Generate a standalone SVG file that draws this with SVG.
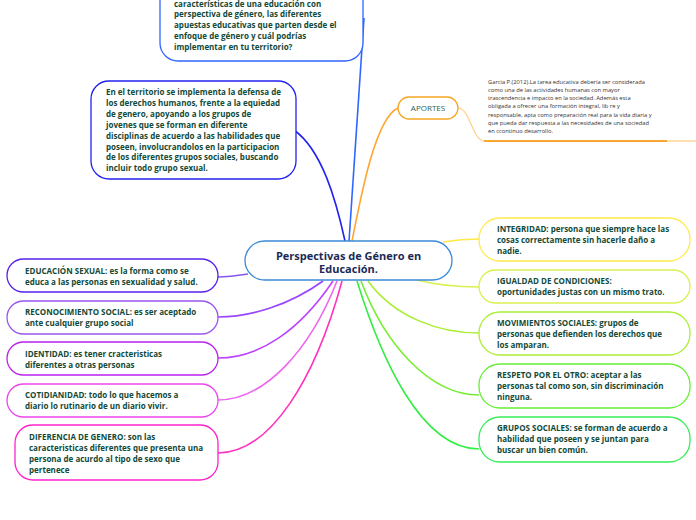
<svg xmlns="http://www.w3.org/2000/svg" width="696" height="520" viewBox="0 0 696 520">
<style>
.t{font-family:"Open Sans","Noto Sans",sans-serif;font-weight:bold;font-size:8px;fill:#124a38}
.c{font-family:"Open Sans","Noto Sans",sans-serif;font-weight:bold;font-size:11px;fill:#1a2a55;text-anchor:middle}
.n{font-family:"Open Sans","Noto Sans",sans-serif;font-size:5.75px;fill:#333}
.box{fill:#fff;stroke-width:1.3}
.ln{fill:none;stroke-width:1.6}
</style>
<rect width="696" height="520" fill="#fff"/>
<g id="connectors">
<path class="ln" d="M349 241 L364 18" stroke="#2f66ff"/>
<path class="ln" d="M345 241 C336 200 322 150 294 130" stroke="#2222ee"/>
<path class="ln" d="M352 241 C362 190 376 118 398 108" stroke="#ffa630"/>
<path d="M458 108 C470 108 472 140 484 141" fill="none" stroke="#ffd08a" stroke-width="1.2"/>
<path d="M484 141 L667 141" stroke="#f8a832" stroke-width="2"/>
<path d="M667 141 L696 141" stroke="#ffe0b0" stroke-width="2"/>
<path class="ln" d="M443 242 C455 240 465 239 479 239" stroke="#ffe94a"/>
<path class="ln" d="M417 280 C440 286 460 287 479 287" stroke="#daf050"/>
<path class="ln" d="M368 281 C395 318 440 333 479 333" stroke="#aaee33"/>
<path class="ln" d="M361 281 C385 345 430 395 479 395" stroke="#77ee33"/>
<path class="ln" d="M357 281 C380 355 420 449 479 449" stroke="#33ee44"/>
<path class="ln" d="M248 274 C235 276 228 277 218 277" stroke="#8855ee"/>
<path class="ln" d="M323 281 C290 305 250 317 218 317" stroke="#9944ff"/>
<path class="ln" d="M333 281 C300 330 260 358 218 358" stroke="#bb44ff"/>
<path class="ln" d="M337 281 C310 350 265 400 218 400" stroke="#ee66ee"/>
<path class="ln" d="M342 281 C315 380 270 453 218 453" stroke="#ff33bb"/>
</g>
<g id="top-node">
<rect class="box" x="160" y="-40" width="203" height="101" rx="18" stroke="#2f66ff"/>
<text class="t"><tspan x="174" y="6.5">características de una educación con</tspan><tspan x="174" y="17.4">perspectiva de género, las diferentes</tspan><tspan x="174" y="28.3">apuestas educativas que parten desde el</tspan><tspan x="174" y="39.2">enfoque de género y cuál podrías</tspan><tspan x="174" y="50.1">implementar en tu territorio?</tspan></text>
</g>
<g id="territorio">
<rect class="box" x="91" y="81" width="205" height="98" rx="18" stroke="#2222ee"/>
<text class="t"><tspan x="106" y="95">En el territorio se implementa la defensa de</tspan><tspan x="106" y="105.9">los derechos humanos, frente a la equiedad</tspan><tspan x="106" y="116.8">de genero, apoyando a los grupos de</tspan><tspan x="106" y="127.7">jovenes que se forman en diferente</tspan><tspan x="106" y="138.6">disciplinas de acuerdo a las habilidades que</tspan><tspan x="106" y="149.5">poseen, involucrandolos en la participacion</tspan><tspan x="106" y="160.4">de los diferentes grupos sociales, buscando</tspan><tspan x="106" y="171.3">incluir todo grupo sexual.</tspan></text>
</g>
<g id="aportes">
<rect class="box" x="398" y="97" width="60" height="22" rx="11" stroke="#f5a623"/>
<text x="428" y="111" text-anchor="middle" style="font-family:'Open Sans','Noto Sans',sans-serif;font-size:8px;fill:#2e5e4e">APORTES</text>
</g>
<g id="nota">
<text class="n"><tspan x="488" y="83.5">Garcia P.(2012).La tarea educativa debería ser considerada</tspan><tspan x="488" y="91.8">como una de las actividades humanas con mayor</tspan><tspan x="488" y="100.1">trascendencia e impacto en la sociedad. Además esta</tspan><tspan x="488" y="108.4">obligada a ofrecer una formación integral, lib re y</tspan><tspan x="488" y="116.7">responsable, apta como preparación real para la vida diaria y</tspan><tspan x="488" y="125">que pueda dar respuesta a las necesidades de una sociedad</tspan><tspan x="488" y="133.3">en ccontinuo desarrollo.</tspan></text>
</g>
<g id="central">
<rect class="box" x="245" y="241" width="207" height="39" rx="19.5" stroke="#3a8ad6"/>
<text class="c"><tspan x="348.5" y="259.5">Perspectivas de Género en</tspan><tspan x="348.5" y="273">Educación.</tspan></text>
</g>
<g id="integridad">
<rect class="box" x="479" y="218" width="211" height="43" rx="21" stroke="#ffe94a"/>
<text class="t"><tspan x="497" y="231.5">INTEGRIDAD: persona que siempre hace las</tspan><tspan x="497" y="242.5">cosas correctamente sin hacerle daño a</tspan><tspan x="497" y="253.5">nadie.</tspan></text>
</g>
<g id="igualdad">
<rect class="box" x="479" y="270" width="211" height="33" rx="16.5" stroke="#daf050"/>
<text class="t"><tspan x="497" y="283.5">IGUALDAD DE CONDICIONES:</tspan><tspan x="497" y="294.5">oportunidades justas con un mismo trato.</tspan></text>
</g>
<g id="movimientos">
<rect class="box" x="479" y="312" width="211" height="43" rx="21" stroke="#aaee33"/>
<text class="t"><tspan x="497" y="326">MOVIMIENTOS SOCIALES: grupos de</tspan><tspan x="497" y="337">personas que defienden los derechos que</tspan><tspan x="497" y="348">los amparan.</tspan></text>
</g>
<g id="respeto">
<rect class="box" x="479" y="364" width="211" height="44" rx="21" stroke="#66ee33"/>
<text class="t"><tspan x="497" y="378">RESPETO POR EL OTRO: aceptar a las</tspan><tspan x="497" y="389">personas tal como son, sin discriminación</tspan><tspan x="497" y="400">ninguna.</tspan></text>
</g>
<g id="grupos">
<rect class="box" x="479" y="417" width="211" height="45" rx="21" stroke="#33ee55"/>
<text class="t"><tspan x="497" y="431">GRUPOS SOCIALES: se forman de acuerdo a</tspan><tspan x="497" y="442">habilidad que poseen y se juntan para</tspan><tspan x="497" y="453">buscar un bien común.</tspan></text>
</g>
<g id="educacion-sexual">
<rect class="box" x="7" y="259" width="211" height="33" rx="16.5" stroke="#5522ee"/>
<text class="t"><tspan x="25" y="273.5">EDUCACIÓN SEXUAL: es la forma como se</tspan><tspan x="25" y="284.5">educa a las personas en sexualidad y salud.</tspan></text>
</g>
<g id="reconocimiento">
<rect class="box" x="7" y="301" width="211" height="33" rx="16.5" stroke="#9955ee"/>
<text class="t"><tspan x="25" y="315">RECONOCIMIENTO SOCIAL: es ser aceptado</tspan><tspan x="25" y="326">ante cualquier grupo social</tspan></text>
</g>
<g id="identidad">
<rect class="box" x="7" y="342" width="211" height="33" rx="16.5" stroke="#bb22ee"/>
<text class="t"><tspan x="25" y="356.5">IDENTIDAD: es tener cracteristicas</tspan><tspan x="25" y="367.5">diferentes a otras personas</tspan></text>
</g>
<g id="cotidianidad">
<rect class="box" x="7" y="384" width="211" height="33" rx="16.5" stroke="#ee44ee"/>
<text class="t"><tspan x="25" y="397.5">COTIDIANIDAD: todo lo que hacemos a</tspan><tspan x="25" y="408.5">diario lo rutinario de un diario vivir.</tspan></text>
</g>
<g id="diferencia">
<rect class="box" x="15" y="425" width="203" height="55" rx="18" stroke="#ff22cc"/>
<text class="t"><tspan x="29" y="439.5">DIFERENCIA DE GENERO: son las</tspan><tspan x="29" y="450.5">caracteristicas diferentes que presenta una</tspan><tspan x="29" y="461.5">persona de acurdo al tipo de sexo que</tspan><tspan x="29" y="472.5">pertenece</tspan></text>
</g>
</svg>
